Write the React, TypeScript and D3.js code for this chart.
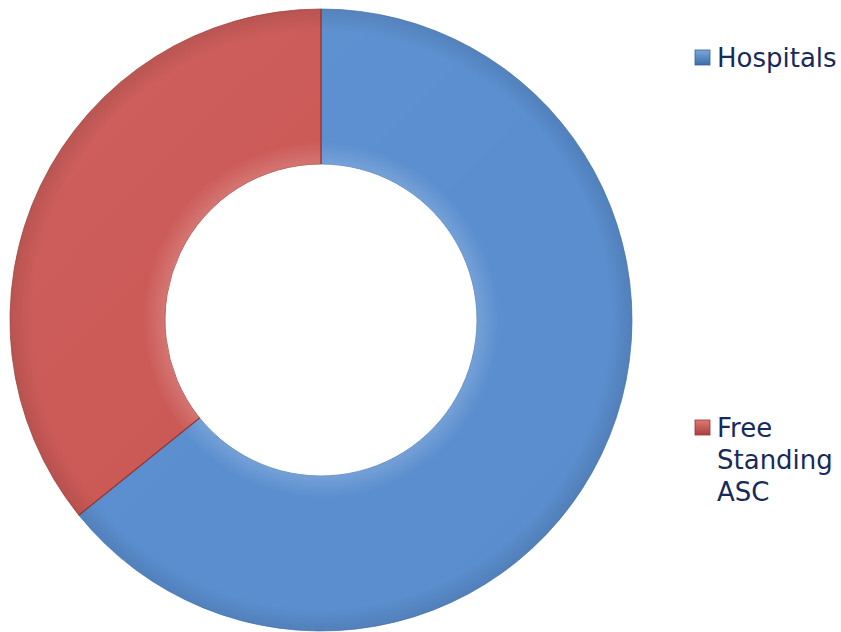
import React from "react";
import { arc, pie, PieArcDatum } from "d3";

const categories = ["Hospitals", "Free Standing ASC"];
const shares = [64.2, 35.8];
const colors = ["#5a8ecf", "#cb5855"];
const legendLines = [["Hospitals"], ["Free", "Standing", "ASC"]];

type Slice = { name: string; value: number; color: string };

const width = 841;
const height = 632;
const cx = 321;
const cy = 320;
const outerR = 311;
const innerR = 156;
const bevel = 22;

const data: Slice[] = categories.map((name, i) => ({
  name,
  value: shares[i],
  color: colors[i],
}));

const pieLayout = pie<Slice>()
  .value((d) => d.value)
  .sort(null);

const arcGen = arc<PieArcDatum<Slice>>().innerRadius(innerR).outerRadius(outerR);

export default function App() {
  const arcs = pieLayout(data);
  const legendY = [58, 428];

  return (
    <svg
      width={width}
      height={height}
      style={{ position: "absolute", left: 0, top: 0, background: "#fff" }}
    >
      <defs>
        {/* soft bevel: lighter near the hole, a bit darker at the outer rim */}
        <radialGradient id="bevel" gradientUnits="userSpaceOnUse" cx={0} cy={0} r={outerR}>
          <stop offset={innerR / outerR} stopColor="#fff" stopOpacity={0.16} />
          <stop offset={(innerR + bevel) / outerR} stopColor="#fff" stopOpacity={0} />
          <stop offset={(outerR - bevel) / outerR} stopColor="#000" stopOpacity={0} />
          <stop offset={1} stopColor="#000" stopOpacity={0.1} />
        </radialGradient>
        <linearGradient id="light" gradientUnits="userSpaceOnUse" x1={-outerR} y1={-outerR} x2={outerR} y2={outerR}>
          <stop offset="0" stopColor="#fff" stopOpacity={0.05} />
          <stop offset="0.55" stopColor="#fff" stopOpacity={0} />
          <stop offset="1" stopColor="#000" stopOpacity={0.03} />
        </linearGradient>
        <linearGradient id="legend-blue" x1="0" y1="0" x2="0" y2="1">
          <stop offset="0" stopColor="#7aa6dc" />
          <stop offset="1" stopColor="#3d6ea8" />
        </linearGradient>
        <linearGradient id="legend-red" x1="0" y1="0" x2="0" y2="1">
          <stop offset="0" stopColor="#e07874" />
          <stop offset="1" stopColor="#a8403c" />
        </linearGradient>
      </defs>
      <g transform={`translate(${cx},${cy})`}>
        {arcs.map((a, i) => (
          <g key={a.data.name}>
            <path
              d={arcGen(a) || undefined}
              fill={a.data.color}
              stroke={i === 0 ? "#4f7fbd" : "#a8453f"}
              strokeWidth={0.8}
            />
            <path d={arcGen(a) || undefined} fill="url(#bevel)" />
            <path d={arcGen(a) || undefined} fill="url(#light)" />
          </g>
        ))}
        {/* boundary between slices */}
        {arcs.map((a) => {
          const ang = a.startAngle;
          return (
            <line
              key={a.data.name + "-edge"}
              x1={Math.sin(ang) * innerR}
              y1={-Math.cos(ang) * innerR}
              x2={Math.sin(ang) * outerR}
              y2={-Math.cos(ang) * outerR}
              stroke="#8a3b38"
              strokeWidth={1.2}
            />
          );
        })}
      </g>
      <g fontFamily="'DejaVu Sans', Verdana, sans-serif" fontSize={26} fill="#182a5c">
        {legendLines.map((lines, i) => (
          <g key={categories[i]}>
            <rect
              x={695}
              y={legendY[i] - 8}
              width={15}
              height={15}
              fill={i === 0 ? "url(#legend-blue)" : "url(#legend-red)"}
              stroke={i === 0 ? "#35639c" : "#963834"}
              strokeWidth={0.8}
            />
            {lines.map((t, j) => (
              <text key={t} x={717} y={legendY[i] + 9 + j * 32}>
                {t}
              </text>
            ))}
          </g>
        ))}
      </g>
    </svg>
  );
}
